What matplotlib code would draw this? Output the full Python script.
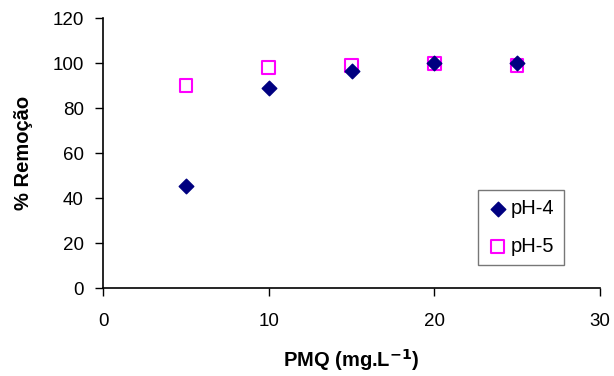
import matplotlib
matplotlib.use('Agg')
import matplotlib.pyplot as plt

plt.rcParams['font.family'] = ['Liberation Sans', 'DejaVu Sans']

pmq = [5, 10, 15, 20, 25]
ph4 = [45.3, 88.9, 96.3, 99.8, 99.8]
ph5 = [89.9, 97.9, 98.8, 99.7, 98.8]

fig = plt.figure(figsize=(6.14, 3.76), dpi=100)
ax = fig.add_axes([0.168, 0.234, 0.809, 0.718])

ax.scatter(pmq, ph4, marker='D', s=55, color='#000080', label='pH-4', zorder=3)
ax.scatter(pmq, ph5, marker='s', s=85, facecolors='none', edgecolors='#FF00FF',
           linewidths=1.5, label='pH-5', zorder=2)

ax.set_xlim(0, 30)
ax.set_ylim(0, 120)
ax.set_xticks([0, 10, 20, 30])
ax.set_yticks(range(0, 121, 20))
ax.tick_params(direction='out', length=6, labelsize=13.5, width=1)
ax.tick_params(axis='x', pad=12)
ax.tick_params(axis='y', pad=8)
ax.spines['top'].set_visible(False)
ax.spines['right'].set_visible(False)
ax.spines['left'].set_linewidth(1.2)
ax.spines['bottom'].set_linewidth(1.2)

ax.set_xlabel('PMQ (mg.L$^{\\mathbf{-1}}$)', fontsize=14.5, fontweight='bold', labelpad=12)
ax.set_ylabel('% Remoção', fontsize=14.5, fontweight='bold', labelpad=14)

leg = ax.legend(loc='lower right', bbox_to_anchor=(0.927, 0.085), fontsize=14.5,
                frameon=True, fancybox=False, edgecolor='#555555',
                handletextpad=0.1, borderpad=0.45, labelspacing=0.95, handlelength=1.1,
                borderaxespad=0)
leg.get_frame().set_linewidth(1)

fig.savefig('out.png', dpi=100)
